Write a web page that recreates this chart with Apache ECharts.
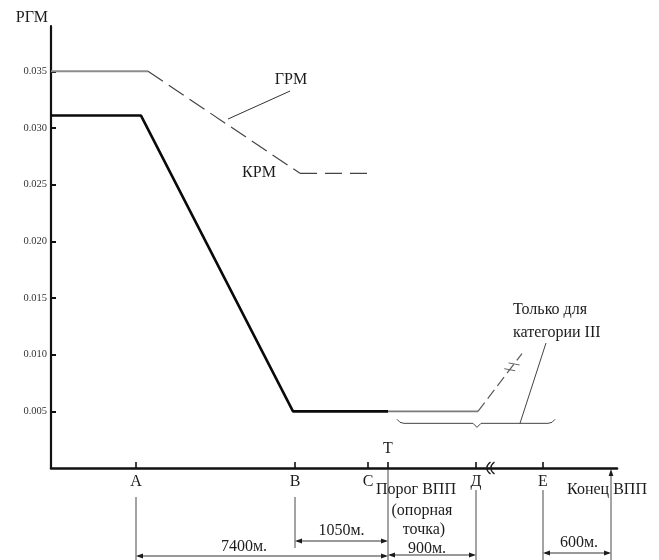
<!DOCTYPE html>
<html>
<head>
<meta charset="utf-8">
<script src="https://cdn.jsdelivr.net/npm/echarts@6/dist/echarts.min.js"></script>
<style>
  html, body { margin: 0; padding: 0; background: #ffffff; }
  #chart { width: 659px; height: 560px; }
</style>
</head>
<body>
<div id="chart"></div>
<script>
// Approach profile schematic: glide-path (ГРМ) and localizer (КРМ) sensitivity
// versus distance along the approach. The horizontal scale is schematic, not to scale.

// Stations along the approach (schematic axis units)
const stationNames = ['А', 'В', 'С', 'Т', 'Д', 'Е'];
const stationPos   = [85, 244, 317, 337, 425, 492];
const runwayEndPos = 560;
const axisBreakPos = 440;
const xMax = 566;

// Y axis
const yMax = 0.039;
const yTicks = [0.005, 0.010, 0.015, 0.020, 0.025, 0.030, 0.035];

// КРМ curve (solid)
const krmX = [0, 90, 242, 337];
const krmY = [0.0311, 0.0311, 0.005, 0.005];

// ГРМ curve: solid level part, dashed slope, dashed level tail
const grmSolidX = [0, 97];
const grmSolidY = [0.035, 0.035];
const grmSlopeX = [97, 249];
const grmSlopeY = [0.035, 0.026];
const grmTailX = [249, 316];
const grmTailY = [0.026, 0.026];

// Continuation past the threshold, and the category III-only branch
const runwayX = [337, 427];
const runwayY = [0.005, 0.005];
const catIIIX = [427, 471];
const catIIIY = [0.005, 0.0101];

// Distance annotations: [from, to, text]
const distances = [
  [85, 337, '7400м.'],
  [244, 337, '1050м.'],
  [337, 425, '900м.'],
  [492, 560, '600м.']
];

const zip = (xs, ys) => xs.map((x, i) => [x, ys[i]]);
const SERIF = '"Liberation Serif", "Times New Roman", serif';
const INK = '#1c1c1c';

function renderNotes(params, api) {
  const X = v => api.coord([v, 0])[0];
  const Y = v => api.coord([0, v])[1];
  const base = Y(0);
  const kids = [];
  const line = (x1, y1, x2, y2, st) => kids.push({
    type: 'line', shape: { x1, y1, x2, y2 },
    style: Object.assign({ stroke: INK, lineWidth: 1 }, st || {})
  });
  const text = (x, y, t, st) => kids.push({
    type: 'text', x, y,
    style: Object.assign({ text: t, fill: INK, font: '16px ' + SERIF, align: 'center', verticalAlign: 'middle' }, st || {})
  });
  const arrow = (x, y, dx, dy) => {
    // filled arrowhead with tip at (x, y) pointing along (dx, dy)
    const L = 7, W = 2.4;
    const px = -dy, py = dx;
    kids.push({
      type: 'polygon',
      shape: { points: [[x, y], [x - dx * L + px * W, y - dy * L + py * W], [x - dx * L - px * W, y - dy * L - py * W]] },
      style: { fill: INK }
    });
  };

  // extension lines below the axis
  const ext = { 85: [29, 92], 244: [29, 80], 337: [1, 92], 425: [22, 92], 492: [22, 92] };
  Object.keys(ext).forEach(k => {
    const x = X(+k);
    line(x, base + ext[k][0], x, base + ext[k][1], { stroke: '#333', lineWidth: 0.9 });
  });
  // runway end: vertical line with an arrow up to the axis
  const xe = X(runwayEndPos);
  line(xe, base + 6, xe, base + 92, { stroke: '#333', lineWidth: 0.9 });
  arrow(xe, base + 1, 0, -1);

  // dimension lines with arrowheads and their texts
  const dimY = { '7400м.': [88, 79], '1050м.': [73, 63], '900м.': [87, 81], '600м.': [85, 75] };
  distances.forEach(([a, b, t]) => {
    const xa = X(a), xb = X(b);
    const yl = base + dimY[t][0];
    line(xa + 2, yl, xb - 2, yl, { lineWidth: 0.9 });
    arrow(xa, yl, -1, 0);
    arrow(xb, yl, 1, 0);
  });
  text((X(85) + X(337)) / 2 - 18, base + 79, '7400м.');
  text((X(244) + X(337)) / 2, base + 63, '1050м.');
  text((X(337) + X(425)) / 2 - 5, base + 81, '900м.');
  text((X(492) + X(560)) / 2 + 2, base + 75, '600м.');

  // threshold and runway end captions
  text(X(337), base - 19, 'Т');
  text(X(337) + 28, base + 22, 'Порог ВПП');
  text(X(337) + 34, base + 43, '(опорная');
  text(X(337) + 36, base + 62, 'точка)');
  text(xe - 4, base + 22, 'Конец ВПП');

  // axis break mark
  const xb = X(axisBreakPos);
  [-2.5, 1.5].forEach(o => kids.push({
    type: 'bezierCurve',
    shape: { x1: xb + o + 2, y1: base - 6, cpx1: xb + o - 3, cpy1: base - 2, cpx2: xb + o - 3, cpy2: base + 2, x2: xb + o + 2, y2: base + 6 },
    style: { stroke: INK, lineWidth: 1.3, fill: null }
  }));

  // break marks on the category III branch
  const p0 = api.coord([catIIIX[0], catIIIY[0]]);
  const p1 = api.coord([catIIIX[1], catIIIY[1]]);
  const ux = p1[0] - p0[0], uy = p1[1] - p0[1];
  const len = Math.hypot(ux, uy);
  const nx = -uy / len, ny = ux / len;
  [0.72, 0.82].forEach(t => {
    const cx = p0[0] + ux * t, cy = p0[1] + uy * t;
    line(cx - nx * 5 - 1.5, cy - ny * 5 + 2, cx + nx * 5 + 1.5, cy + ny * 5 - 2, { stroke: '#555', lineWidth: 0.9 });
  });

  // brace under the runway segment and the category III note
  const yb = Y(0.005) + 12;
  const bl = X(346), bm = X(426), br = X(504);
  kids.push({
    type: 'polyline',
    shape: { points: [[bl, yb - 4], [bl + 3, yb - 1], [bl + 7, yb], [bm - 4, yb], [bm, yb + 4], [bm + 4, yb], [br - 7, yb], [br - 3, yb - 1], [br, yb - 4]] },
    style: { stroke: '#444', lineWidth: 1, fill: null }
  });
  line(X(469), yb, X(495), Y(0.01103), { stroke: '#444', lineWidth: 1 });
  text(X(462), Y(0.01394), 'Только для', { align: 'left' });
  text(X(462), Y(0.01191), 'категории III', { align: 'left' });

  // curve captions
  text(X(240), Y(0.03424), 'ГРМ');
  line(X(239), Y(0.03326), X(177), Y(0.03079), { stroke: '#333', lineWidth: 1 });
  text(X(208), Y(0.02607), 'КРМ');

  return { type: 'group', children: kids };
}

const chart = echarts.init(document.getElementById('chart'), null, { renderer: 'canvas' });
chart.setOption({
  backgroundColor: '#ffffff',
  animation: false,
  grid: { left: 51, right: 42, top: 26, bottom: 92 },
  xAxis: {
    type: 'value', min: 0, max: xMax,
    axisLine: { lineStyle: { color: '#111', width: 2.6 } },
    axisTick: { inside: true, length: 6, customValues: stationPos, lineStyle: { color: '#111', width: 1.6 } },
    axisLabel: {
      customValues: stationPos.filter((p, i) => stationNames[i] !== 'Т'),
      formatter: v => stationNames[stationPos.indexOf(v)] || '',
      fontFamily: SERIF, fontSize: 16, color: INK, margin: 6
    },
    splitLine: { show: false }
  },
  yAxis: {
    type: 'value', min: 0, max: yMax,
    name: 'РГМ', nameLocation: 'end', nameGap: 0,
    nameTextStyle: { fontFamily: SERIF, fontSize: 16, color: INK, align: 'right', verticalAlign: 'bottom', padding: [0, 3, 0, 0] },
    axisLine: { lineStyle: { color: '#111', width: 2.2 } },
    axisTick: { inside: true, length: 5, customValues: yTicks, lineStyle: { color: '#111', width: 2 } },
    axisLabel: {
      customValues: yTicks, formatter: v => v.toFixed(3),
      fontFamily: SERIF, fontSize: 10.5, color: '#333', margin: 4
    },
    splitLine: { show: false }
  },
  series: [
    { type: 'line', data: zip(grmSolidX, grmSolidY), symbol: 'none', lineStyle: { color: '#8c8c8c', width: 2 } },
    { type: 'line', data: zip(grmSlopeX, grmSlopeY), symbol: 'none', lineStyle: { color: '#444', width: 1.2, type: [18, 7] } },
    { type: 'line', data: zip(grmTailX, grmTailY), symbol: 'none', lineStyle: { color: '#444', width: 1.2, type: [17, 8] } },
    { type: 'line', data: zip(krmX, krmY), symbol: 'none', lineStyle: { color: '#0a0a0a', width: 2.6 } },
    { type: 'line', data: zip(runwayX, runwayY), symbol: 'none', lineStyle: { color: '#7a7a7a', width: 1.8 } },
    { type: 'line', data: zip(catIIIX, catIIIY), symbol: 'none', lineStyle: { color: '#5a5a5a', width: 1.2, type: [11, 5] } },
    { type: 'custom', data: [[0, 0]], renderItem: renderNotes, clip: false, silent: true }
  ]
});
</script>
</body>
</html>
